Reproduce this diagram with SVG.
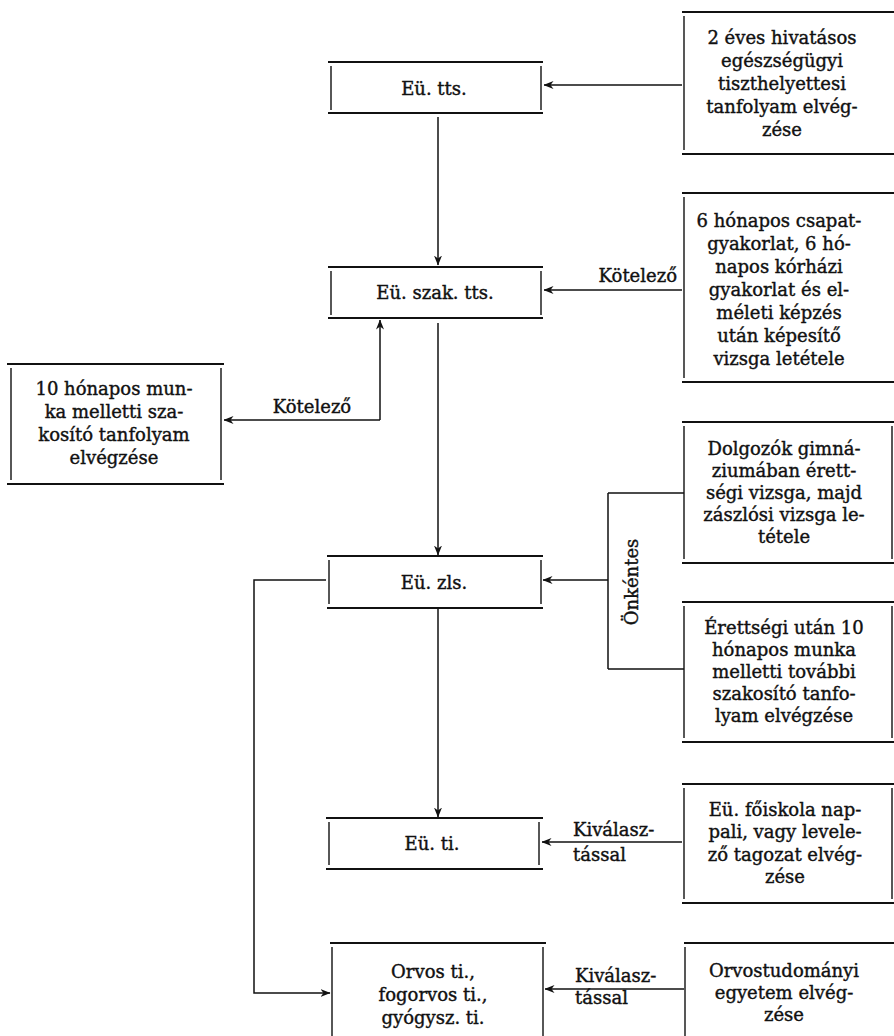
<svg xmlns="http://www.w3.org/2000/svg" width="894" height="1036" viewBox="0 0 894 1036">
<defs>
<marker id="ah" viewBox="0 0 10 8" refX="9.5" refY="4" markerWidth="10" markerHeight="8" markerUnits="userSpaceOnUse" orient="auto">
<path d="M0,0 L10,4 L0,8 L3,4 Z" fill="#111"/>
</marker>
<style>
.h{stroke:#111;stroke-width:2;fill:none}
.v{stroke:#111;stroke-width:1.4;fill:none}
.c{stroke:#111;stroke-width:1.5;fill:none}
.a{stroke:#111;stroke-width:1.5;fill:none;marker-end:url(#ah)}
text{font-family:"DejaVu Serif","Liberation Serif",serif;font-size:18px;fill:#111;stroke:#111;stroke-width:0.4}
.m{text-anchor:middle}
.e{text-anchor:end}
</style>
</defs>
<rect width="894" height="1036" fill="#fff"/>

<g id="connectors">
<path class="a" d="M682,85 H544"/>
<path class="a" d="M438,117 V265"/>
<path class="a" d="M682,290 H544"/>
<path class="a" d="M380,420 V320"/>
<path class="a" d="M380,420 H224"/>
<path class="a" d="M438,323 V555"/>
<path class="a" d="M608,580 H543"/>
<path class="c" d="M608,493 V669 M608,493 H684 M608,669 H684"/>
<path class="a" d="M438,608 V817"/>
<path class="a" d="M326,580 H254 V993 H330"/>
<path class="a" d="M682,842 H542"/>
<path class="a" d="M684,989 H545"/>
<text class="e" x="677" y="282">Kötelező</text>
<text class="m" x="312" y="413">Kötelező</text>
<text class="m" transform="translate(638,582) rotate(-90)">Önkéntes</text>
<text x="573" y="836">Kiválasz-</text>
<text x="573" y="861">tással</text>
<text x="575" y="982">Kiválasz-</text>
<text x="575" y="1004">tással</text>
</g>

<g id="n-eu-tts">
<path class="h" d="M328,62 H543 M328,113 H543"/>
<path class="v" d="M331,66 V110 M541,66 V110"/>
<text class="m" x="434" y="95">Eü. tts.</text>
</g>

<g id="n-2eves">
<path class="h" d="M682,12 H894 M682,154 H894"/>
<path class="v" d="M684,16 V150"/>
<text class="m"><tspan x="782" y="44">2 éves hivatásos</tspan><tspan x="782" y="67">egészségügyi</tspan><tspan x="782" y="90">tiszthelyettesi</tspan><tspan x="782" y="113">tanfolyam elvég-</tspan><tspan x="782" y="136">zése</tspan></text>
</g>

<g id="n-eu-szak-tts">
<path class="h" d="M328,267 H543 M328,318 H543"/>
<path class="v" d="M331,271 V315 M541,271 V315"/>
<text class="m" x="435" y="299">Eü. szak. tts.</text>
</g>

<g id="n-6honapos">
<path class="h" d="M682,193 H894 M682,382 H894"/>
<path class="v" d="M684,197 V378"/>
<text class="m"><tspan x="779" y="227">6 hónapos csapat-</tspan><tspan x="779" y="250">gyakorlat, 6 hó-</tspan><tspan x="779" y="273">napos kórházi</tspan><tspan x="779" y="296">gyakorlat és el-</tspan><tspan x="779" y="319">méleti képzés</tspan><tspan x="779" y="342">után képesítő</tspan><tspan x="779" y="365">vizsga letétele</tspan></text>
</g>

<g id="n-10honapos">
<path class="h" d="M7,364 H224 M7,484 H224"/>
<path class="v" d="M11,368 V480 M221,368 V480"/>
<text class="m"><tspan x="114" y="395">10 hónapos mun-</tspan><tspan x="114" y="418">ka melletti sza-</tspan><tspan x="114" y="441">kosító tanfolyam</tspan><tspan x="114" y="464">elvégzése</tspan></text>
</g>

<g id="n-eu-zls">
<path class="h" d="M327,556 H543 M327,608 H543"/>
<path class="v" d="M329,560 V604 M541,560 V604"/>
<text class="m" x="434" y="589">Eü. zls.</text>
</g>

<g id="n-dolgozok">
<path class="h" d="M682,422 H894 M682,563 H894"/>
<path class="v" d="M684,426 V559 M892,426 V559"/>
<text class="m"><tspan x="784" y="455">Dolgozók gimná-</tspan><tspan x="784" y="477">ziumában érett-</tspan><tspan x="784" y="499">ségi vizsga, majd</tspan><tspan x="784" y="521">zászlósi vizsga le-</tspan><tspan x="784" y="543">tétele</tspan></text>
</g>

<g id="n-erettsegi">
<path class="h" d="M682,602 H894 M682,742 H894"/>
<path class="v" d="M684,606 V738 M892,606 V738"/>
<text class="m"><tspan x="784" y="634">Érettségi után 10</tspan><tspan x="784" y="656">hónapos munka</tspan><tspan x="784" y="678">melletti további</tspan><tspan x="784" y="700">szakosító tanfo-</tspan><tspan x="784" y="722">lyam elvégzése</tspan></text>
</g>

<g id="n-eu-ti">
<path class="h" d="M326,818 H543 M326,869 H543"/>
<path class="v" d="M329,822 V865 M539,822 V865"/>
<text class="m" x="432" y="850">Eü. ti.</text>
</g>

<g id="n-foiskola">
<path class="h" d="M682,784 H894 M682,903 H894"/>
<path class="v" d="M684,788 V899 M892,788 V899"/>
<text class="m"><tspan x="785" y="816">Eü. főiskola nap-</tspan><tspan x="785" y="838">pali, vagy levele-</tspan><tspan x="785" y="861">ző tagozat elvég-</tspan><tspan x="785" y="883">zése</tspan></text>
</g>

<g id="n-orvos">
<path class="h" d="M330,943 H546"/>
<path class="v" d="M332,947 V1036 M543,947 V1036"/>
<text class="m"><tspan x="433" y="978">Orvos ti.,</tspan><tspan x="433" y="1001">fogorvos ti.,</tspan><tspan x="433" y="1024">gyógysz. ti.</tspan></text>
</g>

<g id="n-orvostud">
<path class="h" d="M684,943 H894"/>
<path class="v" d="M685,947 V1036"/>
<text class="m"><tspan x="784" y="977">Orvostudományi</tspan><tspan x="784" y="999">egyetem elvég-</tspan><tspan x="784" y="1021">zése</tspan></text>
</g>
</svg>
